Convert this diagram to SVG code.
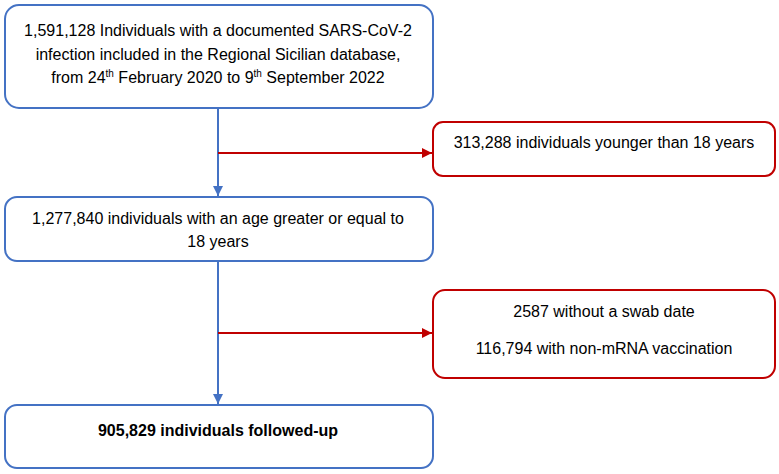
<svg xmlns="http://www.w3.org/2000/svg" width="779" height="474" viewBox="0 0 779 474">
<defs>
<style>
.blue{fill:#fff;stroke:#4472C4;stroke-width:2}
.red{fill:#fff;stroke:#C00000;stroke-width:2}
text{font-family:"Liberation Sans",Arial,sans-serif;font-size:16px;fill:#000;text-anchor:middle}
.b{font-weight:bold}
.bl{stroke:#4472C4;stroke-width:2;fill:none}
.rl{stroke:#C00000;stroke-width:2;fill:none}
</style>
<marker id="ab" viewBox="0 0 10 10" refX="10" refY="5" markerWidth="5.5" markerHeight="5" orient="auto" markerUnits="strokeWidth"><path d="M0,0L10,5L0,10z" fill="#4472C4"/></marker>
<marker id="ar" viewBox="0 0 10 10" refX="10" refY="5" markerWidth="5.5" markerHeight="5" orient="auto" markerUnits="strokeWidth"><path d="M0,0L10,5L0,10z" fill="#C00000"/></marker>
</defs>
<g id="connectors">
<path class="bl" d="M218,108V196" marker-end="url(#ab)"/>
<path class="bl" d="M218,261V404" marker-end="url(#ab)"/>
<path class="rl" d="M218,153H432" marker-end="url(#ar)"/>
<path class="rl" d="M218,333H432" marker-end="url(#ar)"/>
</g>
<g id="n1">
<rect class="blue" x="5" y="5" width="428" height="103" rx="14"/>
<text x="218" y="36">1,591,128 Individuals with a documented SARS-CoV-2</text>
<text x="218" y="60">infection included in the Regional Sicilian database,</text>
<text x="218" y="83">from 24<tspan dy="-6" font-size="10">th</tspan><tspan dy="6"> February 2020 to 9</tspan><tspan dy="-6" font-size="10">th</tspan><tspan dy="6"> September 2022</tspan></text>
</g>
<g id="n2">
<rect class="red" x="433" y="122" width="342" height="54" rx="10"/>
<text x="604" y="148">313,288 individuals younger than 18 years</text>
</g>
<g id="n3">
<rect class="blue" x="5" y="197" width="428" height="64" rx="12"/>
<text x="218" y="224">1,277,840 individuals with an age greater or equal to</text>
<text x="218" y="247">18 years</text>
</g>
<g id="n4">
<rect class="red" x="433" y="290" width="342" height="88" rx="12"/>
<text x="604" y="317">2587 without a swab date</text>
<text x="604" y="354">116,794 with non-mRNA vaccination</text>
</g>
<g id="n5">
<rect class="blue" x="5" y="405" width="428" height="63" rx="12"/>
<text class="b" x="218" y="436">905,829 individuals followed-up</text>
</g>
</svg>
